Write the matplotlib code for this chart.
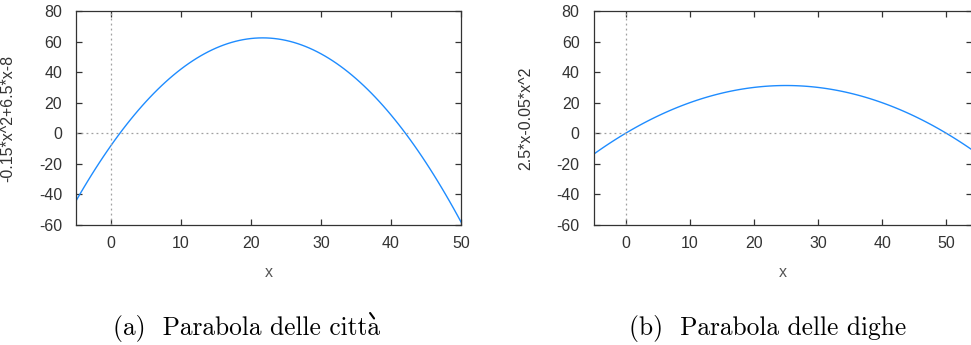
import numpy as np
import matplotlib
matplotlib.use("Agg")
import matplotlib.pyplot as plt
from matplotlib.lines import Line2D

# Data: curves as labelled on the chart (coefficients of a*x^2 + b*x + c)
left_coeffs = [-0.15, 6.5, -8.0]
right_coeffs = [-0.05, 2.5, 0.0]
left_xrange = [-5, 50]
right_xrange = [-5, 54]
yrange = [-60, 80]
xticks = [0, 10, 20, 30, 40, 50]
yticks = [-60, -40, -20, 0, 20, 40, 60, 80]
left_ylabel = "-0.15*x^2+6.5*x-8"
right_ylabel = "2.5*x-0.05*x^2"
left_caption = "(a)  Parabola delle città"
right_caption = "(b)  Parabola delle dighe"
n_samples = 100

plt.rcParams['font.family'] = ['Liberation Sans', 'DejaVu Sans']
plt.rcParams['axes.unicode_minus'] = False

W, H = 971, 345
fig = plt.figure(figsize=(W / 100, H / 100), dpi=100)

def add_panel(px_left, px_right, coeffs, xr, ylabel, ylabel_x):
    top, bottom = 11, 225
    ax = fig.add_axes([px_left / W, 1 - bottom / H, (px_right - px_left) / W, (bottom - top) / H])
    x = np.linspace(xr[0], xr[1], n_samples)
    y = np.polyval(coeffs, x)
    ax.plot(x, y, color='#1e8cff', lw=1.0)
    ax.axhline(0, color='#a0a0a0', lw=0.9, ls=(0, (1.5, 2.5)))
    ax.axvline(0, color='#a0a0a0', lw=0.9, ls=(0, (1.5, 2.5)))
    ax.set_xlim(xr)
    ax.set_ylim(yrange)
    ax.set_xticks(xticks)
    ax.set_yticks(yticks)
    ax.tick_params(direction='in', top=True, right=True, length=4, width=0.9,
                   colors='#333333', labelsize=11.5, labelcolor='#333333')
    ax.tick_params(axis='y', pad=10)
    ax.tick_params(axis='x', pad=8)
    for s in ax.spines.values():
        s.set_color('#333333')
        s.set_linewidth(0.9)
    ax.set_xlabel('x', fontsize=11.5, color='#555555', labelpad=10)
    ax.set_ylabel(ylabel, fontsize=11.5, color='#333333')
    ax.yaxis.set_label_coords((ylabel_x - px_left) / (px_right - px_left), 0.5)
    return ax

add_panel(76, 461, left_coeffs, left_xrange, left_ylabel, 15)
add_panel(593.5, 972, right_coeffs, right_xrange, right_ylabel, 533)

CAP_FS = 18.3
CAP_FAM = ['cmr10']
BASE_PX = 335  # caption baseline, pixels from top

def caption(text, cx):
    # cmr10 lacks precomposed accented letters: draw base letters, then add accents
    accents = {'à': 'a', 'è': 'e', 'ì': 'i', 'ò': 'o', 'ù': 'u'}
    plain = ''.join(accents.get(c, c) for c in text)
    t = fig.text(cx / W, 1 - BASE_PX / H, plain, fontsize=CAP_FS, ha='center',
                 va='baseline', family=CAP_FAM)
    r = fig.canvas.get_renderer()
    left = t.get_window_extent(r).x0
    for i, c in enumerate(text):
        if c in accents:
            pre = fig.text(0, 0, plain[:i], fontsize=CAP_FS, family=CAP_FAM)
            full = fig.text(0, 0, plain[:i + 1], fontsize=CAP_FS, family=CAP_FAM)
            w0 = pre.get_window_extent(r).width
            w1 = full.get_window_extent(r).width
            pre.remove(); full.remove()
            xc = left + (w0 + w1) / 2 - 0.5
            # grave accent drawn as a short slanted stroke (pixel coords)
            xs = [xc - 2.6, xc + 1.4]
            ys = [H - (BASE_PX - 22), H - (BASE_PX - 16.5)]
            fig.add_artist(Line2D([v / W for v in xs], [v / H for v in ys],
                                  transform=fig.transFigure, color='black',
                                  lw=1.5, solid_capstyle='round'))

caption(left_caption, 246)
caption(right_caption, 768)

fig.savefig('out.png', dpi=100)
